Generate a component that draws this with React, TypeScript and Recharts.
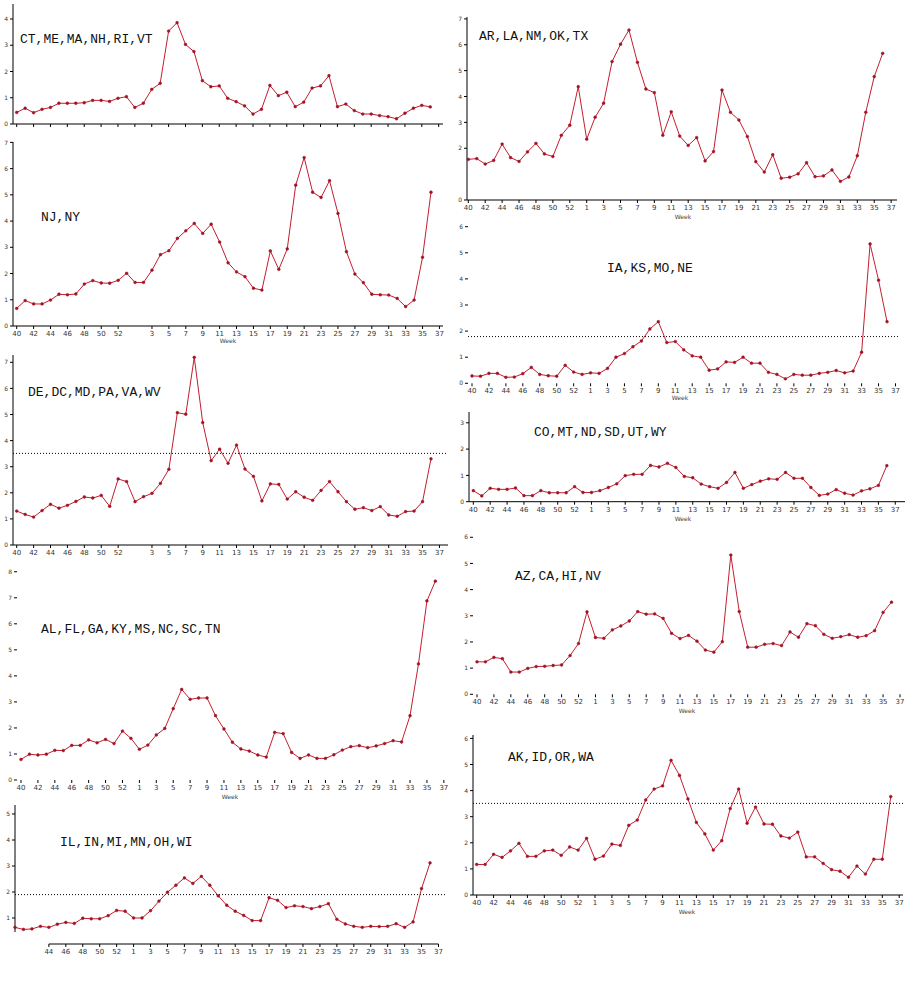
import React from 'react';
import { LineChart, Line, XAxis, YAxis, ReferenceLine } from 'recharts';

// weeks 40..53 of one year, then 1..37 of the next
const weeks = [
  '40', '41', '42', '43', '44', '45', '46', '47', '48', '49', '50', '51', '52', '53',
  '1', '2', '3', '4', '5', '6', '7', '8', '9', '10', '11', '12', '13', '14', '15', '16', '17', '18', '19',
  '20', '21', '22', '23', '24', '25', '26', '27', '28', '29', '30', '31', '32', '33', '34', '35', '36', '37',
];
const tickWeeks = ['40', '42', '44', '46', '48', '50', '52', '1', '3', '5', '7', '9', '11', '13', '15', '17', '19', '21', '23', '25', '27', '29', '31', '33', '35', '37'];
const tickWeeksNoOne = tickWeeks.filter((w) => w !== '1');
const tickWeeksFrom44 = tickWeeks.slice(2);

const ctMeMa = [0.44, 0.6, 0.43, 0.56, 0.63, 0.79, 0.79, 0.79, 0.81, 0.9, 0.9, 0.86, 0.98, 1.04, 0.63, 0.79, 1.32, 1.55, 3.54, 3.86, 3.03, 2.76, 1.65, 1.42, 1.45, 0.98, 0.85, 0.69, 0.38, 0.56, 1.47, 1.08, 1.21, 0.66, 0.83, 1.37, 1.45, 1.84, 0.66, 0.76, 0.51, 0.38, 0.38, 0.32, 0.28, 0.2, 0.41, 0.6, 0.71, 0.65];
const njNy = [0.67, 0.97, 0.84, 0.84, 0.99, 1.21, 1.19, 1.22, 1.6, 1.73, 1.64, 1.63, 1.74, 2.01, 1.66, 1.66, 2.13, 2.72, 2.87, 3.34, 3.63, 3.91, 3.53, 3.88, 3.2, 2.41, 2.06, 1.88, 1.44, 1.37, 2.86, 2.16, 2.94, 5.37, 6.42, 5.1, 4.9, 5.54, 4.29, 2.83, 1.98, 1.65, 1.21, 1.19, 1.18, 1.05, 0.74, 0.99, 2.62, 5.1];
const deDcMd = [1.3, 1.17, 1.07, 1.32, 1.56, 1.41, 1.52, 1.67, 1.84, 1.8, 1.9, 1.48, 2.53, 2.43, 1.66, 1.85, 1.98, 2.36, 2.9, 5.07, 5.01, 7.19, 4.69, 3.23, 3.67, 3.13, 3.83, 2.91, 2.63, 1.69, 2.34, 2.32, 1.76, 2.04, 1.83, 1.71, 2.09, 2.43, 2.04, 1.66, 1.37, 1.43, 1.32, 1.47, 1.15, 1.1, 1.28, 1.3, 1.66, 3.3];
const alFlGa = [0.79, 0.99, 0.96, 0.99, 1.14, 1.13, 1.33, 1.33, 1.54, 1.43, 1.56, 1.4, 1.88, 1.6, 1.18, 1.34, 1.73, 1.98, 2.74, 3.48, 3.1, 3.15, 3.15, 2.47, 1.96, 1.45, 1.19, 1.11, 0.96, 0.88, 1.83, 1.78, 1.06, 0.83, 0.96, 0.83, 0.83, 0.97, 1.15, 1.28, 1.32, 1.24, 1.31, 1.4, 1.51, 1.46, 2.47, 4.46, 6.88, 7.64];
const ilInMi = [0.64, 0.56, 0.58, 0.68, 0.64, 0.76, 0.83, 0.79, 0.99, 0.97, 0.97, 1.09, 1.29, 1.26, 1.0, 1.0, 1.28, 1.65, 1.99, 2.26, 2.54, 2.33, 2.6, 2.26, 1.85, 1.49, 1.26, 1.1, 0.9, 0.9, 1.78, 1.68, 1.4, 1.47, 1.44, 1.36, 1.44, 1.55, 0.95, 0.77, 0.68, 0.64, 0.68, 0.67, 0.68, 0.78, 0.64, 0.85, 2.13, 3.12];
const arLaNm = [1.57, 1.6, 1.39, 1.53, 2.16, 1.64, 1.49, 1.86, 2.19, 1.78, 1.68, 2.5, 2.89, 4.38, 2.35, 3.2, 3.74, 5.35, 6.02, 6.57, 5.32, 4.29, 4.15, 2.5, 3.41, 2.47, 2.11, 2.41, 1.51, 1.87, 4.25, 3.39, 3.09, 2.45, 1.48, 1.08, 1.75, 0.84, 0.88, 1.01, 1.44, 0.9, 0.93, 1.16, 0.72, 0.89, 1.71, 3.39, 4.77, 5.67];
const iaKsMo = [0.28, 0.27, 0.38, 0.38, 0.23, 0.24, 0.37, 0.61, 0.34, 0.29, 0.27, 0.69, 0.43, 0.34, 0.4, 0.38, 0.57, 1.0, 1.14, 1.4, 1.62, 2.08, 2.36, 1.56, 1.6, 1.28, 1.05, 1.0, 0.5, 0.55, 0.82, 0.8, 1.0, 0.77, 0.77, 0.42, 0.34, 0.17, 0.34, 0.31, 0.31, 0.38, 0.42, 0.49, 0.4, 0.47, 1.19, 5.34, 3.95, 2.36];
const coMtNd = [0.42, 0.22, 0.51, 0.47, 0.47, 0.52, 0.23, 0.23, 0.42, 0.34, 0.34, 0.34, 0.57, 0.35, 0.35, 0.42, 0.54, 0.68, 0.99, 1.04, 1.04, 1.38, 1.32, 1.46, 1.3, 0.96, 0.91, 0.67, 0.57, 0.51, 0.73, 1.11, 0.51, 0.65, 0.78, 0.87, 0.85, 1.11, 0.89, 0.89, 0.54, 0.24, 0.29, 0.46, 0.32, 0.25, 0.41, 0.49, 0.62, 1.37];
const azCaHi = [1.24, 1.24, 1.41, 1.36, 0.85, 0.85, 0.99, 1.06, 1.07, 1.1, 1.12, 1.48, 1.94, 3.15, 2.17, 2.14, 2.46, 2.61, 2.8, 3.16, 3.06, 3.07, 2.9, 2.33, 2.13, 2.25, 2.03, 1.69, 1.61, 2.01, 5.32, 3.16, 1.8, 1.8, 1.91, 1.94, 1.86, 2.38, 2.18, 2.7, 2.62, 2.29, 2.14, 2.2, 2.28, 2.18, 2.24, 2.43, 3.13, 3.52];
const akIdOr = [1.17, 1.17, 1.56, 1.44, 1.69, 1.98, 1.48, 1.48, 1.69, 1.72, 1.52, 1.84, 1.72, 2.17, 1.37, 1.49, 1.95, 1.9, 2.67, 2.87, 3.64, 4.06, 4.18, 5.16, 4.58, 3.68, 2.78, 2.34, 1.72, 2.08, 3.31, 4.06, 2.75, 3.37, 2.72, 2.71, 2.26, 2.18, 2.41, 1.46, 1.46, 1.21, 0.97, 0.91, 0.68, 1.11, 0.8, 1.37, 1.37, 3.77];

const LINE = '#c41e2e';
const DOT = '#9e1426';
const YW = 20;
const MT = 5;
const MR = 5;
const XH = 20;

type Panel = {
  title: string;
  values: number[];
  titleX: number;
  titleY: number;
  first: number;
  step: number;
  axisX?: number;
  axisRight?: number;
  zeroY: number;
  unit: number;
  topY: number;
  yTicks: number[];
  xTicks: string[];
  xLabels: boolean;
  threshold?: number;
  week?: [number, number];
  split?: boolean;
};

const panels: Panel[] = [
  { title: 'CT,ME,MA,NH,RI,VT', values: ctMeMa, titleX: 20, titleY: 40, first: 16.7, step: 8.44, axisX: 13, axisRight: 443, zeroY: 124, unit: 26.25, topY: 4, yTicks: [0, 1, 2, 3, 4], xTicks: tickWeeks, xLabels: false },
  { title: 'NJ,NY', values: njNy, titleX: 41, titleY: 218, first: 16.7, step: 8.455, axisX: 13, axisRight: 443, zeroY: 326, unit: 26.23, topY: 142, yTicks: [0, 1, 2, 3, 4, 5, 6, 7], xTicks: tickWeeksNoOne, xLabels: true, week: [228, 341] },
  { title: 'DE,DC,MD,PA,VA,WV', values: deDcMd, titleX: 28, titleY: 393, first: 16.7, step: 8.455, axisX: 13, axisRight: 448, zeroY: 545, unit: 26.1, topY: 355, yTicks: [0, 1, 2, 3, 4, 5, 6, 7], xTicks: tickWeeksNoOne, xLabels: true, threshold: 3.51 },
  { title: 'AL,FL,GA,KY,MS,NC,SC,TN', values: alFlGa, titleX: 41, titleY: 630, first: 20.7, step: 8.457, zeroY: 780, unit: 26.03, topY: 568, yTicks: [0, 1, 2, 3, 4, 5, 6, 7, 8], xTicks: tickWeeks, xLabels: true, week: [230, 797] },
  { title: 'IL,IN,MI,MN,OH,WI', values: ilInMi, titleX: 60, titleY: 843, first: 15, step: 8.47, axisX: 15, axisRight: 447, zeroY: 944, unit: 26, topY: 805, yTicks: [1, 2, 3, 4, 5], xTicks: tickWeeksFrom44, xLabels: true, threshold: 1.9, split: true },
  { title: 'AR,LA,NM,OK,TX', values: arLaNm, titleX: 479, titleY: 37, first: 468.3, step: 8.457, axisX: 467, axisRight: 897, zeroY: 200, unit: 25.87, topY: 17, yTicks: [0, 2, 3, 4, 5, 6, 7], xTicks: tickWeeks, xLabels: true, week: [683, 217] },
  { title: 'IA,KS,MO,NE', values: iaKsMo, titleX: 607, titleY: 269, first: 471.7, step: 8.47, zeroY: 383.3, unit: 26.1, topY: 224, yTicks: [0, 1, 2, 3, 4, 5, 6], xTicks: tickWeeks, xLabels: true, threshold: 1.79, week: [680, 398] },
  { title: 'CO,MT,ND,SD,UT,WY', values: coMtNd, titleX: 534, titleY: 433, first: 473.3, step: 8.44, axisX: 469, axisRight: 905, zeroY: 501.7, unit: 26.3, topY: 412, yTicks: [0, 1, 2, 3], xTicks: tickWeeks, xLabels: true, week: [683, 519] },
  { title: 'AZ,CA,HI,NV', values: azCaHi, titleX: 515, titleY: 577, first: 477.3, step: 8.46, zeroY: 694.3, unit: 26.17, topY: 535, yTicks: [0, 1, 2, 3, 4, 5, 6], xTicks: tickWeeks, xLabels: true, week: [687, 711] },
  { title: 'AK,ID,OR,WA', values: akIdOr, titleX: 508, titleY: 758, first: 476.7, step: 8.45, axisX: 473, axisRight: 903, zeroY: 895, unit: 26.1, topY: 735, yTicks: [0, 1, 2, 3, 4, 5, 6], xTicks: tickWeeks, xLabels: true, threshold: 3.51, week: [687, 912] },
];

function PanelChart({ p }: { p: Panel }) {
  const axes = p.axisX !== undefined;
  const week37 = p.first + 50 * p.step;
  const l = axes ? (p.axisX as number) : p.first - 4;
  const r = axes ? (p.axisRight as number) : week37 + 4;
  const yMax = (p.zeroY - p.topY) / p.unit;
  const data = weeks.map((w, i) => ({ week: w, v: i < p.values.length ? p.values[i] : null }));
  const axisLine = axes && !p.split ? { stroke: '#000' } : false;
  const tickStyle = { fontSize: 7, fill: '#333', fontFamily: 'DejaVu Sans' };

  return (
    <>
      <div style={{ position: 'absolute', left: l - YW, top: p.topY - MT }}>
        <LineChart
          width={r - l + YW + MR}
          height={p.zeroY - p.topY + MT + XH}
          data={data}
          margin={{ top: MT, right: MR, bottom: 0, left: 0 }}
        >
          <XAxis
            dataKey="week"
            ticks={p.xTicks}
            interval={0}
            height={XH}
            padding={{ left: p.first - l, right: r - week37 }}
            axisLine={axisLine}
            tickLine={{ stroke: '#000' }}
            tickSize={3}
            tick={tickStyle}
            tickFormatter={(w: string) => (p.xLabels ? w : '')}
          />
          <YAxis
            type="number"
            domain={[0, yMax]}
            ticks={p.yTicks}
            width={YW}
            axisLine={axisLine}
            tickLine={{ stroke: '#000' }}
            tickSize={3}
            tick={{ ...tickStyle, fontSize: 6 }}
          />
          {p.split && (
            <ReferenceLine segment={[{ x: '44', y: 0 }, { x: '37', y: 0 }]} stroke="#000" ifOverflow="visible" />
          )}
          {p.split && (
            <ReferenceLine segment={[{ x: '40', y: 0.46 }, { x: '40', y: yMax }]} stroke="#000" ifOverflow="visible" />
          )}
          {p.threshold !== undefined && (
            <ReferenceLine y={p.threshold} stroke="#000" strokeDasharray="1 2" />
          )}
          <Line
            type="linear"
            dataKey="v"
            stroke={LINE}
            strokeWidth={1}
            dot={{ r: 1.4, fill: DOT, stroke: DOT, strokeWidth: 0.5 }}
            activeDot={false}
            connectNulls={false}
            isAnimationActive={false}
          />
        </LineChart>
      </div>
      <div
        style={{
          position: 'absolute',
          left: p.titleX,
          top: p.titleY - 8,
          lineHeight: '16px',
          fontSize: 13,
          fontFamily: '"Liberation Mono", monospace',
          color: '#111',
          whiteSpace: 'nowrap',
        }}
      >
        {p.title}
      </div>
      {p.week && (
        <div
          style={{
            position: 'absolute',
            left: p.week[0] - 10,
            top: p.week[1] - 4,
            width: 20,
            textAlign: 'center',
            fontSize: 6,
            lineHeight: '8px',
            fontFamily: 'DejaVu Sans',
            color: '#444',
          }}
        >
          Week
        </div>
      )}
    </>
  );
}

export default function App() {
  return (
    <div style={{ position: 'absolute', left: 0, top: 0, width: 908, height: 990, background: '#fff', overflow: 'hidden' }}>
      {panels.map((p) => (
        <PanelChart key={p.title} p={p} />
      ))}
    </div>
  );
}
